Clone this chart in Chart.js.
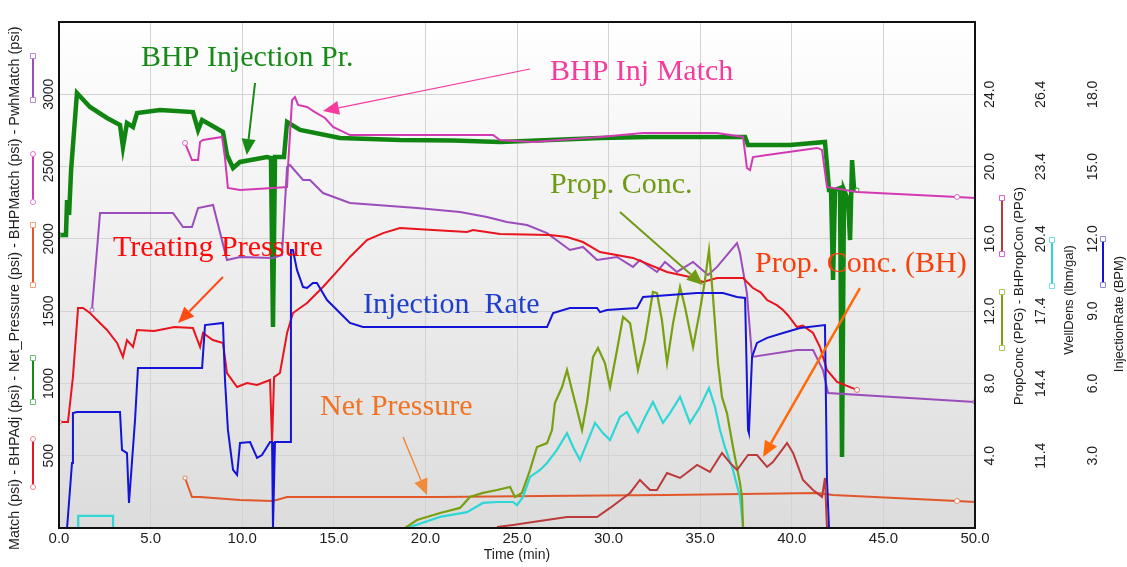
<!DOCTYPE html>
<html>
<head>
<meta charset="utf-8">
<title>Treatment history match</title>
<script src="https://cdn.jsdelivr.net/npm/chart.js@4.4.1/dist/chart.umd.min.js"></script>
<style>
  html, body { margin: 0; padding: 0; background: #fff; }
  canvas { display: block; }
</style>
</head>
<body>
<canvas id="treatChart" width="1127" height="567"></canvas>
<script>
// ---- tick values for every axis
const timeTicks = [0, 5, 10, 15, 20, 25, 30, 35, 40, 45, 50];
const psiTicks = [500, 1000, 1500, 2000, 2500, 3000];
const ppgTicks = [4, 8, 12, 16, 20, 24];
const densTicks = [11.4, 14.4, 17.4, 20.4, 23.4, 26.4];
const rateTicks = [3, 6, 9, 12, 15, 18];

// ---- BHPAdj (psi), green
const bhpAdjTime = [0.00, 0.38, 0.44, 0.55, 0.66, 0.98, 1.69, 2.62, 3.33, 3.49, 3.71, 4.04, 4.26, 5.51, 7.31, 7.59, 7.81, 8.95, 9.17, 9.50, 9.88, 11.35, 11.57, 11.68, 11.79, 12.28, 12.45, 13.16, 15.34, 18.61, 21.50, 24.07, 26.80, 29.53, 32.20, 34.99, 37.45, 37.61, 39.90, 41.81, 41.92, 42.03, 42.14, 42.25, 42.36, 42.63, 42.74, 42.85, 43.07, 43.18, 43.29, 43.40, 43.56];
const bhpAdjPsi = [2027, 2027, 2269, 2165, 2476, 3009, 2912, 2836, 2788, 2635, 2801, 2774, 2870, 2891, 2877, 2753, 2822, 2739, 2580, 2490, 2532, 2566, 2559, 1390, 2566, 2566, 2808, 2753, 2698, 2684, 2680, 2670, 2684, 2698, 2705, 2705, 2705, 2649, 2649, 2670, 2511, 2338, 2338, 1715, 2338, 2352, 491, 2338, 2269, 1992, 2545, 2338, 2338];

// ---- BHPMatch (psi), magenta
const bhpMatchTime = [6.88, 7.26, 7.59, 7.70, 7.86, 8.90, 9.06, 9.22, 9.88, 11.68, 12.45, 12.50, 12.72, 12.88, 13.05, 13.54, 13.97, 14.52, 14.96, 15.88, 23.69, 24.07, 25.87, 29.53, 31.88, 35.92, 37.34, 37.55, 37.72, 37.88, 38.65, 41.38, 41.65, 41.92, 43.56, 49.02, 50.00];
const bhpMatchPsi = [2663, 2545, 2545, 2670, 2684, 2705, 2560, 2352, 2338, 2352, 2359, 2497, 2960, 2981, 2926, 2912, 2877, 2836, 2774, 2718, 2718, 2684, 2670, 2705, 2732, 2732, 2705, 2490, 2476, 2566, 2580, 2629, 2615, 2359, 2324, 2290, 2283];

// ---- PwhMatch (psi), purple
const pwhMatchTime = [1.80, 2.24, 6.22, 6.77, 7.26, 7.59, 8.41, 9.17, 9.88, 11.68, 12.17, 12.45, 12.61, 13.32, 13.70, 14.41, 15.88, 19.54, 21.89, 23.36, 24.45, 25.55, 26.64, 27.89, 28.60, 29.37, 30.46, 31.33, 31.71, 32.64, 33.08, 33.73, 34.61, 35.43, 35.92, 37.01, 37.17, 37.55, 37.83, 40.28, 41.16, 41.70, 41.98, 50.00];
const pwhMatchPsi = [1508, 2179, 2179, 2082, 2082, 2213, 2234, 1854, 1875, 1868, 1888, 2497, 2511, 2407, 2407, 2317, 2248, 2213, 2186, 2151, 2117, 2096, 2040, 1923, 1944, 1854, 1875, 1806, 1854, 1771, 1840, 1771, 1840, 1750, 1806, 1971, 1902, 1625, 1183, 1231, 1231, 1093, 934, 872];

// ---- Match / treating pressure (psi), red
const matchTime = [0.00, 0.49, 0.76, 1.04, 1.31, 1.69, 2.07, 2.62, 3.17, 3.49, 3.71, 4.04, 4.26, 5.20, 6.30, 7.31, 7.70, 7.86, 8.40, 8.95, 9.17, 9.72, 10.26, 10.81, 11.52, 11.63, 11.74, 12.06, 12.45, 12.77, 13.54, 14.41, 15.34, 15.88, 16.81, 17.69, 18.61, 20.41, 22.27, 22.60, 24.07, 26.80, 27.73, 28.60, 29.53, 31.33, 33.19, 34.44, 35.15, 35.92, 37.34, 37.88, 38.30, 38.65, 38.90, 39.20, 39.52, 39.80, 40.28, 40.60, 41.16, 41.54, 41.92, 42.47, 43.56];
const matchPsi = [733, 733, 1044, 1522, 1522, 1487, 1439, 1370, 1280, 1183, 1300, 1252, 1370, 1363, 1390, 1383, 1252, 1349, 1300, 1280, 1072, 975, 1003, 989, 1024, 588, 1044, 1072, 1349, 1487, 1556, 1667, 1798, 1875, 1992, 2040, 2075, 2061, 2047, 2061, 2034, 2027, 2013, 1978, 1909, 1868, 1771, 1736, 1702, 1729, 1729, 1660, 1630, 1577, 1560, 1540, 1508, 1470, 1390, 1400, 1349, 1252, 1093, 1010, 955];

// ---- Net_Pressure (psi), orange
const netPressTime = [6.88, 7.26, 7.70, 9.88, 11.68, 12.45, 13.54, 20.80, 26.26, 33.19, 41.38, 42.25, 49.02, 50.00];
const netPressPsi = [346, 214, 214, 194, 187, 214, 214, 214, 221, 228, 242, 228, 187, 180];

// ---- InjectionRate (BPM), blue
const injRateTime = [0.44, 0.71, 0.76, 0.98, 3.33, 3.44, 3.71, 3.82, 3.98, 4.15, 4.31, 7.81, 7.97, 8.95, 9.06, 9.22, 9.50, 9.72, 9.88, 10.43, 10.81, 11.08, 11.52, 11.63, 11.68, 11.79, 12.61, 12.66, 12.77, 12.99, 13.32, 13.54, 13.86, 14.08, 14.63, 15.34, 15.88, 16.59, 26.64, 26.97, 27.89, 29.37, 29.53, 29.91, 31.55, 31.88, 34.83, 36.24, 37.01, 37.45, 37.61, 37.66, 37.83, 38.10, 38.65, 39.52, 40.45, 41.81, 41.92, 42.03];
const injRateBpm = [0, 2.70, 4.77, 4.81, 4.81, 3.24, 3.11, 1.04, 2.70, 4.48, 6.64, 6.64, 8.42, 8.51, 6.14, 4.07, 2.41, 2.20, 3.53, 3.57, 2.91, 3.03, 3.57, 3.57, 0, 3.57, 3.57, 11.54, 11.54, 10.71, 10.00, 9.96, 10.17, 10.17, 9.46, 8.92, 8.51, 8.34, 8.34, 8.92, 9.13, 9.13, 8.96, 9.05, 9.13, 9.59, 9.75, 9.75, 9.59, 9.55, 4.07, 3.94, 7.10, 7.68, 7.89, 8.09, 8.30, 8.42, 1.99, 0];

// ---- PropConc (PPG), olive
const propConcTime = [18.89, 19.54, 20.80, 21.89, 22.43, 23.14, 23.91, 24.62, 24.89, 25.27, 25.71, 26.09, 26.64, 26.91, 27.07, 27.46, 27.73, 28.00, 28.28, 28.55, 28.82, 29.15, 29.42, 29.80, 30.08, 30.46, 30.79, 31.17, 31.60, 31.99, 32.42, 32.64, 32.91, 33.19, 33.52, 33.90, 34.17, 34.61, 34.99, 35.26, 35.48, 35.70, 35.97, 36.19, 36.46, 36.79, 37.17, 37.28, 37.34];
const propConcPpg = [0, 0.44, 0.83, 1.11, 1.72, 1.94, 2.10, 2.27, 1.72, 1.94, 3.21, 4.48, 4.70, 5.42, 6.92, 7.80, 8.74, 7.64, 6.53, 5.42, 6.92, 9.46, 9.96, 9.13, 7.80, 9.85, 11.68, 11.34, 8.74, 10.40, 13.06, 13.00, 11.51, 9.13, 11.34, 13.34, 12.23, 10.02, 12.06, 13.72, 15.38, 12.78, 9.13, 7.25, 6.36, 4.48, 2.49, 1.72, 0];

// ---- BHPropCon (PPG), brown
const bhPropConTime = [23.91, 24.78, 25.87, 27.73, 29.37, 30.08, 31.17, 31.71, 32.26, 32.64, 33.19, 33.90, 34.83, 35.53, 36.19, 36.63, 37.01, 37.61, 38.10, 38.65, 38.97, 39.74, 40.07, 40.61, 41.16, 41.65, 41.81, 41.92];
const bhPropConPpg = [0.06, 0.17, 0.33, 0.61, 0.61, 1.11, 1.94, 2.66, 2.10, 2.10, 3.04, 2.77, 3.49, 3.10, 4.15, 3.60, 3.21, 4.04, 4.04, 3.38, 3.65, 4.70, 4.15, 2.66, 2.10, 1.72, 2.77, 0];

// ---- WellDens (lbm/gal), cyan
const wellDensTime = [1.05, 1.05, 2.95, 2.95, 10.0, 19.00, 20.80, 22.27, 23.14, 23.91, 24.78, 25.00, 25.33, 25.71, 26.26, 26.64, 27.18, 27.73, 28.06, 28.44, 28.82, 29.26, 29.69, 30.08, 30.62, 31.00, 31.60, 31.99, 32.42, 32.97, 33.35, 33.90, 34.44, 34.99, 35.48, 35.81, 36.08, 36.35, 36.79, 37.17, 37.34];
const wellDensLbm = [8.0, 8.9, 8.9, 8.0, null, 8.40, 8.86, 9.06, 9.44, 9.48, 9.48, 9.35, 9.69, 10.52, 10.81, 11.10, 11.64, 12.34, 11.76, 11.22, 11.93, 12.76, 12.34, 12.05, 13.01, 13.21, 12.38, 13.01, 13.63, 12.76, 13.17, 13.84, 12.76, 13.42, 14.21, 13.42, 12.47, 11.76, 10.81, 9.69, 8.44];

const SANS = '"Liberation Sans", Arial, sans-serif';
const SERIF = '"Liberation Serif", "Times New Roman", serif';
const INK = '#1e1e1e';

// small hollow markers at chosen points of a series
function series(label, times, values, axis, color, width, marks) {
  const at = {};
  (marks || []).forEach(m => { at[m.i < 0 ? times.length + m.i : m.i] = m; });
  return {
    label: label,
    yAxisID: axis,
    data: times.map((t, i) => ({ x: t, y: values[i] })),
    borderColor: color,
    borderWidth: width,
    tension: 0,
    spanGaps: false,
    pointRadius: c => at[c.dataIndex] ? 2.5 : 0,
    pointHoverRadius: 0,
    pointStyle: c => at[c.dataIndex] ? at[c.dataIndex].shape : 'circle',
    pointBackgroundColor: '#ffffff',
    pointBorderColor: c => at[c.dataIndex] ? at[c.dataIndex].color : color,
    pointBorderWidth: 1
  };
}

// text callouts with arrows, positioned in time / psi units
const notes = [
  { text: 'BHP Injection Pr.', color: '#178a17', at: [4.48, 3196], from: [10.70, 3078], to: [10.25, 2580], arrow: '#178a17', w: 2 },
  { text: 'BHP Inj Match', color: '#f53c9c', at: [26.80, 3099], from: [25.71, 3175], to: [14.41, 2884], arrow: '#f53c9c', w: 1.2 },
  { text: 'Treating Pressure', color: '#ff0a0a', at: [2.95, 1881], from: [8.95, 1736], to: [6.50, 1418], arrow: '#ff4a14', w: 2 },
  { text: 'Injection  Rate', color: '#1f3fcc', at: [16.59, 1487] },
  { text: 'Prop. Conc.', color: '#6f9a14', at: [26.80, 2317], from: [30.62, 2186], to: [35.15, 1681], arrow: '#6f9a14', w: 2 },
  { text: 'Prop. Conc. (BH)', color: '#f5420c', at: [37.99, 1771], from: [43.72, 1660], to: [38.43, 491], arrow: '#ff6a0a', w: 2.5 },
  { text: 'Net Pressure', color: '#f07424', at: [14.25, 782], from: [18.78, 629], to: [20.09, 228], arrow: '#f08a3c', w: 1.5 }
];

// rotated axis titles; each key swatch sits at its own centre y
const leftTitle = {
  x: 15, startY: 550, size: 14.4, keyX: 33,
  text: 'Match (psi) - BHPAdj (psi) - Net_Pressure (psi) - BHPMatch (psi) - PwhMatch (psi)',
  keys: [
    { y: 463, half: 24, line: '#e8141e', end: '#f08a8a', shape: 'circle' },
    { y: 380, half: 22, line: '#168a16', end: '#6cbf6c', shape: 'rect' },
    { y: 255, half: 30, line: '#e0582a', end: '#f2a27e', shape: 'rect' },
    { y: 178, half: 24, line: '#d23ab4', end: '#e27ad2', shape: 'circle' },
    { y: 78, half: 22, line: '#9b4dbb', end: '#b88ad6', shape: 'rect' }
  ]
};
const rightTitles = [
  { x: 1019, midY: 296, size: 13, keyX: 1002, text: 'PropConc (PPG) - BHPropCon (PPG)',
    keys: [{ y: 320, half: 28, line: '#78a010', end: '#a6c65a', shape: 'rect' },
           { y: 226, half: 28, line: '#bb3b3b', end: '#d466d4', shape: 'rect' }] },
  { x: 1069, midY: 300, size: 13, keyX: 1052, text: 'WellDens (lbm/gal)',
    keys: [{ y: 263, half: 23, line: '#2fd6d6', end: '#6ee2e2', shape: 'rect' }] },
  { x: 1119, midY: 314, size: 13, keyX: 1103, text: 'InjectionRate (BPM)',
    keys: [{ y: 262, half: 23, line: '#1414d8', end: '#8a8ae6', shape: 'rect' }] }
];

function drawKey(ctx, x, k) {
  ctx.save();
  ctx.strokeStyle = k.line;
  ctx.lineWidth = 2;
  ctx.beginPath();
  ctx.moveTo(x, k.y - k.half);
  ctx.lineTo(x, k.y + k.half);
  ctx.stroke();
  ctx.lineWidth = 1;
  ctx.strokeStyle = k.end;
  ctx.fillStyle = '#ffffff';
  [k.y - k.half, k.y + k.half].forEach(y => {
    ctx.beginPath();
    if (k.shape === 'circle') ctx.arc(x, y, 2.5, 0, Math.PI * 2);
    else ctx.rect(x - 2.5, y - 2.5, 5, 5);
    ctx.fill();
    ctx.stroke();
  });
  ctx.restore();
}

function drawTitle(ctx, t) {
  ctx.save();
  ctx.font = t.size + 'px ' + SANS;
  const total = ctx.measureText(t.text).width;
  const bottom = t.startY !== undefined ? t.startY : t.midY + total / 2;
  ctx.translate(t.x, bottom);
  ctx.rotate(-Math.PI / 2);
  ctx.fillStyle = INK;
  ctx.textAlign = 'left';
  ctx.textBaseline = 'middle';
  ctx.fillText(t.text, 0, 0);
  ctx.restore();
  t.keys.forEach(k => drawKey(ctx, t.keyX, k));
}

function drawArrow(ctx, x1, y1, x2, y2, color, w) {
  const ang = Math.atan2(y2 - y1, x2 - x1);
  const len = 16, half = 7;
  const bx = x2 - len * Math.cos(ang), by = y2 - len * Math.sin(ang);
  ctx.save();
  ctx.strokeStyle = color;
  ctx.lineWidth = w;
  ctx.beginPath();
  ctx.moveTo(x1, y1);
  ctx.lineTo(bx, by);
  ctx.stroke();
  ctx.fillStyle = color;
  ctx.beginPath();
  ctx.moveTo(x2, y2);
  ctx.lineTo(bx + half * Math.sin(ang), by - half * Math.cos(ang));
  ctx.lineTo(bx - half * Math.sin(ang), by + half * Math.cos(ang));
  ctx.closePath();
  ctx.fill();
  ctx.restore();
}

const plotDecor = {
  id: 'plotDecor',
  beforeDraw(chart) {
    const { ctx, chartArea: a } = chart;
    ctx.save();
    ctx.fillStyle = '#ffffff';
    ctx.fillRect(0, 0, chart.width, chart.height);
    const g = ctx.createLinearGradient(0, a.top, 0, a.bottom);
    g.addColorStop(0, '#ffffff');
    g.addColorStop(1, '#dcdcdc');
    ctx.fillStyle = g;
    ctx.fillRect(a.left, a.top, a.width, a.height);
    ctx.restore();
  },
  afterDatasetsDraw(chart) {
    const { ctx, chartArea: a, scales } = chart;
    const px = t => scales.x.getPixelForValue(t);
    const py = v => scales.y.getPixelForValue(v);

    notes.forEach(n => {
      if (n.from) drawArrow(ctx, px(n.from[0]), py(n.from[1]), px(n.to[0]), py(n.to[1]), n.arrow, n.w);
      ctx.save();
      ctx.font = '30px ' + SERIF;
      ctx.fillStyle = n.color;
      ctx.textAlign = 'left';
      ctx.textBaseline = 'alphabetic';
      ctx.fillText(n.text, px(n.at[0]), py(n.at[1]));
      ctx.restore();
    });

    ctx.save();
    ctx.strokeStyle = '#111111';
    ctx.lineWidth = 2;
    ctx.strokeRect(a.left, a.top, a.width, a.height);
    ctx.restore();

    drawTitle(ctx, leftTitle);
    rightTitles.forEach(t => drawTitle(ctx, t));
  }
};

function fixedTicks(list) {
  return scale => { scale.ticks = list.map(v => ({ value: v })); };
}

function sideAxis(position, min, max, list, fmt, pad, width, grid) {
  return {
    type: 'linear',
    position: position,
    min: min,
    max: max,
    afterBuildTicks: fixedTicks(list),
    afterFit: s => { s.width = width; s.paddingTop = 0; s.paddingBottom = 0; },
    ticks: {
      minRotation: 90,
      maxRotation: 90,
      crossAlign: 'center',
      padding: pad,
      color: INK,
      font: { family: SANS, size: 14 },
      callback: fmt
    },
    grid: grid ? { color: '#d3d3d3', lineWidth: 1, drawTicks: false } : { display: false, drawTicks: false },
    border: { display: false }
  };
}

new Chart(document.getElementById('treatChart'), {
  type: 'line',
  data: {
    datasets: [
      series('BHPropCon', bhPropConTime, bhPropConPpg, 'yPpg', '#bb3b3b', 2),
      series('InjectionRate', injRateTime, injRateBpm, 'yRate', '#1414d8', 2),
      series('PropConc', propConcTime, propConcPpg, 'yPpg', '#78a010', 2.2),
      series('WellDens', wellDensTime, wellDensLbm, 'yDens', '#2fd6d6', 2.2),
      series('Match', matchTime, matchPsi, 'y', '#e8141e', 2,
        [{ i: 0, shape: 'circle', color: '#e86a6a' }, { i: -1, shape: 'circle', color: '#e86a6a' }]),
      series('PwhMatch', pwhMatchTime, pwhMatchPsi, 'y', '#9b4dbb', 2,
        [{ i: 0, shape: 'rect', color: '#a878c8' }, { i: -1, shape: 'rect', color: '#a878c8' }]),
      series('Net_Pressure', netPressTime, netPressPsi, 'y', '#e0582a', 2,
        [{ i: 0, shape: 'rect', color: '#e88a6a' }, { i: -2, shape: 'circle', color: '#e88a6a' }]),
      series('BHPMatch', bhpMatchTime, bhpMatchPsi, 'y', '#d23ab4', 2,
        [{ i: 0, shape: 'circle', color: '#d86ac6' }, { i: -2, shape: 'circle', color: '#d86ac6' }]),
      series('BHPAdj', bhpAdjTime, bhpAdjPsi, 'y', '#118511', 4.5,
        [{ i: 0, shape: 'rect', color: '#3a9a3a' }, { i: -1, shape: 'rect', color: '#3a9a3a' }])
    ]
  },
  options: {
    responsive: false,
    devicePixelRatio: 1,
    animation: false,
    events: [],
    layout: { padding: { top: 22, left: 0, right: 0, bottom: 0 } },
    plugins: { legend: { display: false }, tooltip: { enabled: false } },
    scales: {
      x: {
        type: 'linear',
        min: 0,
        max: 50,
        afterBuildTicks: fixedTicks(timeTicks),
        afterFit: s => { s.height = 39; s.paddingLeft = 0; s.paddingRight = 0; },
        ticks: { color: INK, font: { family: SANS, size: 15 }, padding: 2, maxRotation: 0, callback: v => v.toFixed(1) },
        grid: { color: '#d3d3d3', lineWidth: 1, drawTicks: false },
        border: { display: false },
        title: { display: true, text: 'Time (min)', color: INK, font: { family: SANS, size: 14 }, padding: { top: 0, bottom: 3 } }
      },
      y: sideAxis('left', 0, 3500, psiTicks, v => String(v), -5.6, 59, true),
      yPpg: sideAxis('right', 0, 28, ppgTicks, v => v.toFixed(1), 1.4, 55, false),
      yDens: sideAxis('right', 8.4, 29.4, densTicks, v => v.toFixed(1), -2.6, 52, false),
      yRate: sideAxis('right', 0, 21, rateTicks, v => v.toFixed(1), -2.6, 45, false)
    }
  },
  plugins: [plotDecor]
});
</script>
</body>
</html>
